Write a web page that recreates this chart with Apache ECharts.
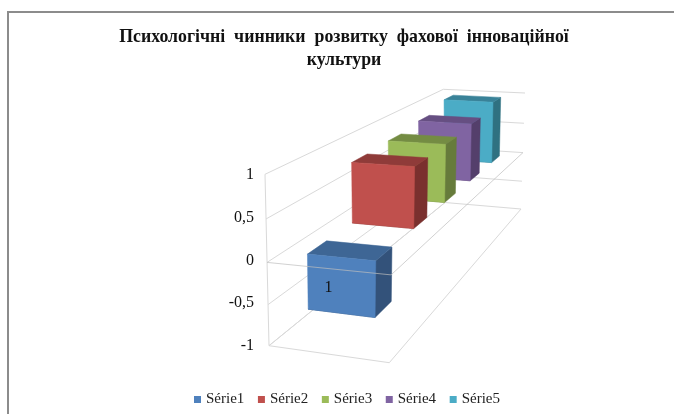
<!DOCTYPE html>
<html>
<head>
<meta charset="utf-8">
<style>
  html, body { margin: 0; padding: 0; background: #fff; }
  #chartBox { width: 674px; height: 414px; }
</style>
</head>
<body>
<div id="chartBox"></div>
<script src="https://cdn.jsdelivr.net/npm/echarts@6/dist/echarts.min.js"></script>
<script>
const titleLines = ['Психологічні  чинники  розвитку  фахової  інноваційної', 'культури']
const seriesNames = ['Série1', 'Série2', 'Série3', 'Série4', 'Série5']
const seriesValues = [-0.67, 0.78, 0.8, 0.85, 0.97]
const dataLabels = ['1', '', '', '', '']
const yTicks = [-1, -0.5, 0, 0.5, 1]

const frontColors = ['#4f81bd', '#c0504d', '#9bbb59', '#8064a2', '#4bacc6']
const topColors = ['#3e6695', '#8f3b39', '#748c43', '#664f82', '#398298']
const sideColors = ['#33527a', '#7a302e', '#667b3b', '#543f6b', '#2f7181']

// the eight corners of the 3d box as they land on screen
const box = {
  flb: [269, 345.7], flt: [265, 174.3],
  frb: [389.3, 362.7], frt: [393, 182],
  blb: [445, 202.5], blt: [443.3, 89.3],
  brb: [521, 209], brt: [525, 93]
}
const DEPTH_K = 1.6
const HEIGHT_K = 1.0576
const BAR_DEPTH = 0.08
const BAR_LEFT = 0.2
const BAR_RIGHT = 0.77
const GRID_COLOR = '#d9d9d9'
const FONT = '"Liberation Serif", "Times New Roman", serif'

function mix (a, b, t) {
  return [a[0] + (b[0] - a[0]) * t, a[1] + (b[1] - a[1]) * t]
}

// u across, d into the picture, both 0..1. value goes through the y axis
function project (params, api, u, d, value) {
  const rect = params.coordSys
  let t = (rect.y + rect.height - api.coord([0, value])[1]) / rect.height
  t = t / (HEIGHT_K - (HEIGHT_K - 1) * t)
  const dd = DEPTH_K * d / (1 + (DEPTH_K - 1) * d)
  const left = mix(mix(box.flb, box.flt, t), mix(box.blb, box.blt, t), dd)
  const right = mix(mix(box.frb, box.frt, t), mix(box.brb, box.brt, t), dd)
  return mix(left, right, u)
}

function poly (points, fill) {
  return { type: 'polygon', shape: { points }, style: { fill, stroke: fill, lineWidth: 0.5 } }
}

function line (points, stroke) {
  return { type: 'polyline', shape: { points }, style: { fill: null, stroke, lineWidth: 1 } }
}

function renderWall (params, api) {
  const P = (u, d, v) => project(params, api, u, d, v)
  const v = api.value(1)
  const children = [line([P(0, 0, v), P(0, 1, v), P(1, 1, v)], GRID_COLOR)]
  if (params.dataIndex === 0) {
    children.push(line([P(0, 1, v), P(0, 0, v), P(1, 0, v), P(1, 1, v)], GRID_COLOR))
    children.push(line([P(0, 0, yTicks[0]), P(0, 0, yTicks[yTicks.length - 1])], GRID_COLOR))
  }
  return { type: 'group', children }
}

function renderZeroPlane (params, api) {
  const P = (u, d, v) => project(params, api, u, d, v)
  return line([P(0, 0, 0), P(1, 0, 0), P(1, 1, 0)], 'rgba(190,190,190,0.7)')
}

function makeBar (i) {
  return function (params, api) {
    const rect = params.coordSys
    const mid = (api.coord([api.value(0), 0])[0] - rect.x) / rect.width
    const v = api.value(1)
    const d0 = mid - BAR_DEPTH / 2
    const d1 = mid + BAR_DEPTH / 2
    const P = (u, d, h) => project(params, api, u, d, h)
    const hi = Math.max(v, 0)
    const lo = Math.min(v, 0)
    const children = [
      poly([P(BAR_LEFT, d0, lo), P(BAR_RIGHT, d0, lo), P(BAR_RIGHT, d1, lo), P(BAR_RIGHT, d1, hi), P(BAR_RIGHT, d0, hi)], sideColors[i]),
      poly([P(BAR_LEFT, d0, hi), P(BAR_RIGHT, d0, hi), P(BAR_RIGHT, d1, hi), P(BAR_LEFT, d1, hi)], topColors[i]),
      poly([P(BAR_LEFT, d0, lo), P(BAR_RIGHT, d0, lo), P(BAR_RIGHT, d0, hi), P(BAR_LEFT, d0, hi)], frontColors[i])
    ]
    if (dataLabels[i]) {
      const c = P(0.5, d0, (hi + lo) / 2)
      children.push({
        type: 'text',
        style: { text: dataLabels[i], x: c[0] - 15, y: c[1] + 2, align: 'center', verticalAlign: 'middle', fill: '#111', font: '16px ' + FONT }
      })
    }
    return { type: 'group', children }
  }
}

const barSeries = seriesNames.map(function (name, i) {
  return {
    name,
    type: 'custom',
    coordinateSystem: 'cartesian2d',
    clip: false,
    z: 10 - i,
    itemStyle: { color: frontColors[i] },
    data: [[i, seriesValues[i]]],
    renderItem: makeBar(i)
  }
})

const myChart = echarts.init(document.getElementById('chartBox'), null, { renderer: 'canvas' })
myChart.setOption({
  animation: false,
  backgroundColor: '#fff',
  title: {
    text: titleLines.join('\n'),
    left: 339,
    top: 21,
    textAlign: 'center',
    textStyle: { fontFamily: FONT, fontSize: 17.8, fontWeight: 'bold', color: '#111', lineHeight: 23 }
  },
  legend: {
    data: seriesNames,
    left: 189,
    top: 387,
    icon: 'rect',
    itemWidth: 7,
    itemHeight: 7,
    itemGap: 13.6,
    textStyle: { fontFamily: FONT, fontSize: 15, color: '#222' }
  },
  grid: { left: 262, top: 175, width: 260, height: 171 },
  xAxis: { type: 'category', data: seriesNames, show: false },
  yAxis: {
    type: 'value',
    min: -1,
    max: 1,
    interval: 0.5,
    axisLine: { show: false },
    axisTick: { show: false },
    splitLine: { show: false },
    axisLabel: {
      margin: 8,
      color: '#111',
      fontFamily: FONT,
      fontSize: 16,
      formatter: function (v) { return String(v).replace('.', ',') }
    }
  },
  graphic: [{
    type: 'polyline',
    silent: true,
    shape: { points: [[8, 414], [8, 12], [674, 12]] },
    style: { fill: null, stroke: '#8c8c8c', lineWidth: 2 }
  }],
  series: [{
    name: 'walls',
    type: 'custom',
    coordinateSystem: 'cartesian2d',
    clip: false,
    z: 1,
    data: yTicks.map(function (v) { return [0, v] }),
    renderItem: renderWall
  }, {
    name: 'zero',
    type: 'custom',
    coordinateSystem: 'cartesian2d',
    clip: false,
    z: 20,
    data: [[0, 0]],
    renderItem: renderZeroPlane
  }].concat(barSeries)
})
</script>
</body>
</html>
